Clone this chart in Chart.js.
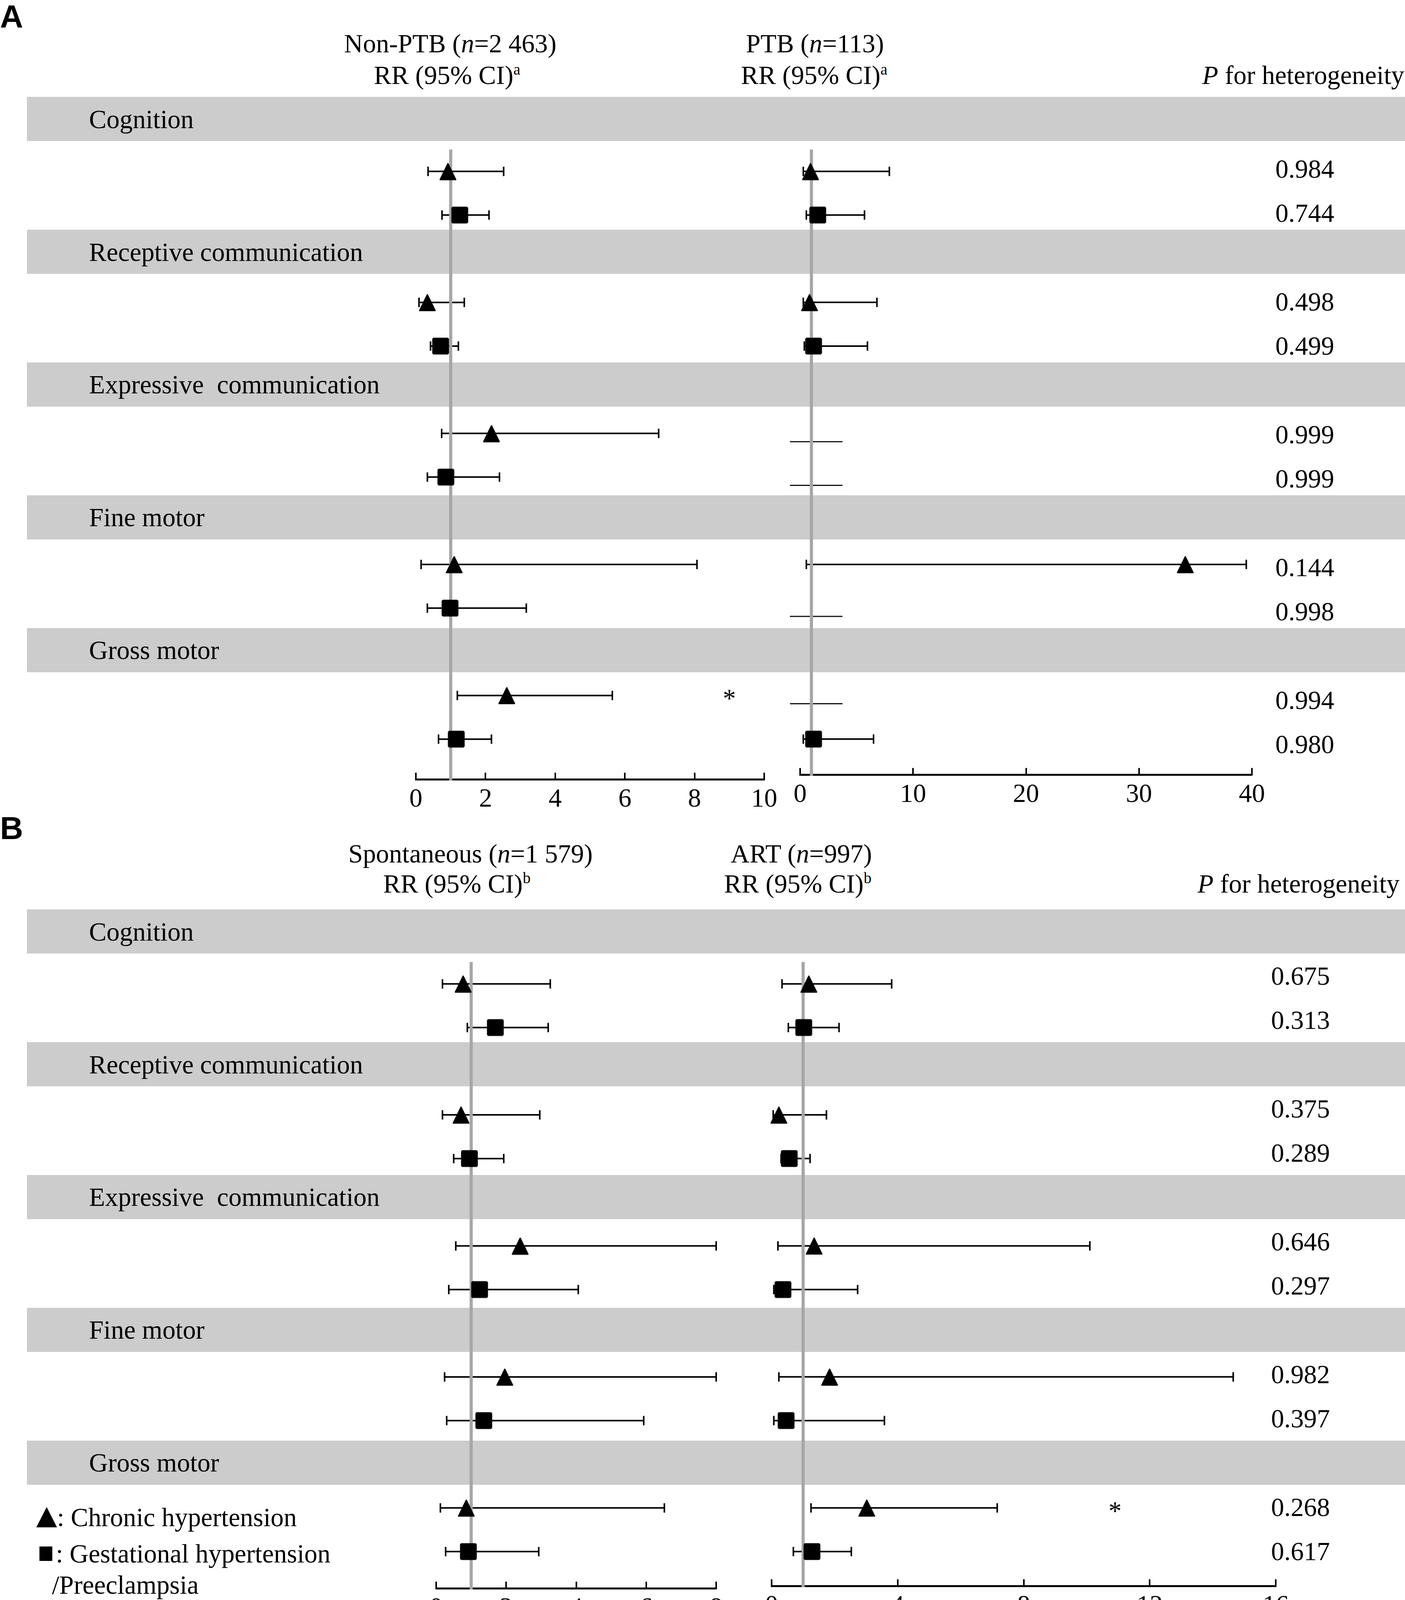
<!DOCTYPE html>
<html lang="en">
<head>
<meta charset="UTF-8">
<title>RR (95% CI) by hypertensive disorder</title>
<script src="https://cdn.jsdelivr.net/npm/chart.js@4.4.0/dist/chart.umd.min.js"></script>
<style>
	html, body { margin: 0; padding: 0; background: #fff; }
	#page { position: relative; width: 3598px; height: 4161px; overflow: hidden; color: #000;
		font-family: 'Liberation Serif', 'Times New Roman', serif; }
	.band { position: absolute; background: #cccccc; }
	.txt { position: absolute; font-size: 67px; line-height: 1; white-space: pre; transform: translateY(-50%); }
	.txt.ctr { transform: translate(-50%, -50%); }
	.txt.rgt { transform: translate(-100%, -50%); }
	.txt sup { font-size: 40px; line-height: 0; vertical-align: 24px; }
	.letter { position: absolute; font-family: 'Liberation Sans', Arial, sans-serif; font-weight: bold;
		font-size: 82px; line-height: 1; }
	.mk { position: absolute; background: #000; }
	canvas { position: absolute; }
</style>
</head>
<body>
<div id="page"></div>

<script>
	// ---------- data ----------
	var domains = ['Cognition', 'Receptive communication', 'Expressive  communication', 'Fine motor', 'Gross motor'];

	// A: Non-PTB, chronic hypertension (triangle) / gestational hypertension-preeclampsia (square)
	var nonPtbTicks = [0, 2, 4, 6, 8, 10];
	var nonPtbChEst = [0.92, 0.33, 2.17, 1.10, 2.61];
	var nonPtbChLow = [0.35, 0.09, 0.74, 0.15, 1.19];
	var nonPtbChHigh = [2.52, 1.39, 6.97, 8.07, 5.64];
	var nonPtbGhEst = [1.26, 0.71, 0.86, 0.98, 1.16];
	var nonPtbGhLow = [0.75, 0.42, 0.33, 0.33, 0.65];
	var nonPtbGhHigh = [2.10, 1.22, 2.40, 3.17, 2.17];
	var nonPtbStar = [0, 0, 0, 0, 1];

	// A: PTB (null estimate = not estimable, drawn as a plain line)
	var ptbTicks = [0, 10, 20, 30, 40];
	var ptbChEst = [0.92, 0.83, null, 34.1, null];
	var ptbChLow = [0.28, 0.28, -0.9, 0.55, -0.9];
	var ptbChHigh = [7.9, 6.8, 3.75, 39.5, 3.75];
	var ptbGhEst = [1.56, 1.19, null, null, 1.19];
	var ptbGhLow = [0.55, 0.37, -0.9, -0.9, 0.28];
	var ptbGhHigh = [5.7, 5.96, 3.75, 3.75, 6.5];

	// B: Spontaneous
	var spontTicks = [0, 2, 4, 6, 8];
	var spontChEst = [0.77, 0.71, 2.40, 1.96, 0.86];
	var spontChLow = [0.18, 0.18, 0.56, 0.24, 0.12];
	var spontChHigh = [3.26, 2.96, 8.0, 8.0, 6.52];
	var spontGhEst = [1.69, 0.95, 1.24, 1.36, 0.92];
	var spontGhLow = [0.89, 0.50, 0.36, 0.30, 0.27];
	var spontGhHigh = [3.20, 1.93, 4.06, 5.93, 2.93];

	// B: ART
	var artTicks = [0, 4, 8, 12, 16];
	var artChEst = [1.18, 0.23, 1.35, 1.84, 3.02];
	var artChLow = [0.33, 0.05, 0.20, 0.23, 1.25];
	var artChHigh = [3.81, 1.74, 10.1, 14.65, 7.16];
	var artGhEst = [1.02, 0.56, 0.36, 0.46, 1.28];
	var artGhLow = [0.53, 0.30, 0.07, 0.07, 0.69];
	var artGhHigh = [2.14, 1.22, 2.73, 3.58, 2.53];
	var artStar = [0, 0, 0, 0, 1];

	var noStar = [0, 0, 0, 0, 0];

	// P for heterogeneity, per domain: [chronic, gestational]
	var pA = [['0.984', '0.744'], ['0.498', '0.499'], ['0.999', '0.999'], ['0.144', '0.998'], ['0.994', '0.980']];
	var pB = [['0.675', '0.313'], ['0.375', '0.289'], ['0.646', '0.297'], ['0.982', '0.397'], ['0.268', '0.617']];

	var REF = 1;   // null line, RR = 1

	// ---------- layout ----------
	var UNIT = 113.3;            // height of one grey band; each domain takes 3 units
	var BAND_L = 69, BAND_R = 3598;
	var panelTop = [248, 2328];
	var pOffset = [14, 0];
	var pLeft = [3266, 3255];
	var AXIS_H = 95, PAD_L = 100, PAD_R = 60;

	var page = document.getElementById('page');

	function addDiv(cls, html, left, top) {
		var d = document.createElement('div');
		d.className = cls;
		d.innerHTML = html;
		d.style.left = left + 'px';
		d.style.top = top + 'px';
		page.appendChild(d);
		return d;
	}

	function rowY(c, s) { return 3 * c + 1.5 + s; }

	// bands, domain labels, P values
	[pA, pB].forEach(function (pv, k) {
		var y0 = panelTop[k];
		domains.forEach(function (name, c) {
			var b = addDiv('band', '', BAND_L, y0 + 3 * c * UNIT);
			b.style.width = (BAND_R - BAND_L) + 'px';
			b.style.height = UNIT + 'px';
			addDiv('txt', name, 228, y0 + (3 * c + 0.5) * UNIT);
			pv[c].forEach(function (p, s) {
				addDiv('txt', p, pLeft[k], y0 + rowY(c, s) * UNIT + pOffset[k]);
			});
		});
	});

	// headers
	addDiv('letter', 'A', 0, 1);
	addDiv('letter', 'B', 0, 2079);
	addDiv('txt ctr', 'Non-PTB (<i>n</i>=2 463)', 1153, 111);
	addDiv('txt ctr', 'RR (95% CI)<sup>a</sup>', 1145, 192);
	addDiv('txt ctr', 'PTB (<i>n</i>=113)', 2087, 111);
	addDiv('txt ctr', 'RR (95% CI)<sup>a</sup>', 2085, 192);
	addDiv('txt rgt', '<i>P</i> for heterogeneity', 3596, 192);
	addDiv('txt ctr', 'Spontaneous (<i>n</i>=1 579)', 1205, 2185);
	addDiv('txt ctr', 'RR (95% CI)<sup>b</sup>', 1170, 2262);
	addDiv('txt ctr', 'ART (<i>n</i>=997)', 2052, 2185);
	addDiv('txt ctr', 'RR (95% CI)<sup>b</sup>', 2043, 2262);
	addDiv('txt rgt', '<i>P</i> for heterogeneity', 3584, 2262);

	// legend
	var tri = addDiv('mk', '', 93, 3858);
	tri.style.width = '53px'; tri.style.height = '52px';
	tri.style.clipPath = 'polygon(50% 0, 100% 100%, 0 100%)';
	var sqm = addDiv('mk', '', 101, 3959);
	sqm.style.width = '33px'; sqm.style.height = '37px';
	addDiv('txt', ': Chronic hypertension', 146, 3884);
	addDiv('txt', ': Gestational hypertension', 143, 3977);
	addDiv('txt', '/Preeclampsia', 133, 4057);

	// ---------- charts ----------
	Chart.defaults.font.family = "'Liberation Serif', 'Times New Roman', serif";
	Chart.defaults.color = '#000';

	function markerImage(kind) {
		var c = document.createElement('canvas');
		c.width = 46; c.height = 46;
		var g = c.getContext('2d');
		g.fillStyle = '#000'; g.strokeStyle = '#000'; g.lineWidth = 3; g.lineJoin = 'round';
		g.beginPath();
		if (kind === 'tri') {
			g.moveTo(23, 3); g.lineTo(43, 44); g.lineTo(3, 44);
		} else {
			g.roundRect(3, 3, 40, 40, 3);
		}
		g.closePath(); g.fill(); g.stroke();
		return c;
	}
	var triImg = markerImage('tri');
	var sqImg = markerImage('sq');

	var plots = [
		{ panel: 0, left: 1065, right: 1957, axisY: 1995, ticks: nonPtbTicks,
			series: [[nonPtbChEst, nonPtbChLow, nonPtbChHigh], [nonPtbGhEst, nonPtbGhLow, nonPtbGhHigh]],
			star: nonPtbStar, starX: 9.0 },
		{ panel: 0, left: 2049, right: 3206, axisY: 1983, ticks: ptbTicks,
			series: [[ptbChEst, ptbChLow, ptbChHigh], [ptbGhEst, ptbGhLow, ptbGhHigh]],
			star: noStar, starX: 0 },
		{ panel: 1, left: 1117, right: 1834, axisY: 4066, ticks: spontTicks,
			series: [[spontChEst, spontChLow, spontChHigh], [spontGhEst, spontGhLow, spontGhHigh]],
			star: noStar, starX: 0 },
		{ panel: 1, left: 1976, right: 3267, axisY: 4060, ticks: artTicks,
			series: [[artChEst, artChLow, artChHigh], [artGhEst, artGhLow, artGhHigh]],
			star: artStar, starX: 10.9 }
	];

	// tick marks pointing up from the axis + significance stars
	var forestExtras = {
		id: 'forestExtras',
		afterDraw: function (chart) {
			var xs = chart.scales.x, ys = chart.scales.y, ctx = chart.ctx;
			var b = chart.chartArea.bottom;
			var p = chart.options.plugins.forestExtras;
			ctx.save();
			ctx.strokeStyle = '#000';
			ctx.lineWidth = 4;
			xs.ticks.forEach(function (t) {
				var px = Math.round(xs.getPixelForValue(t.value));
				ctx.beginPath();
				ctx.moveTo(px, b + 2);
				ctx.lineTo(px, b - 17);
				ctx.stroke();
			});
			ctx.fillStyle = '#000';
			ctx.font = "67px 'Liberation Serif'";
			ctx.textAlign = 'center';
			ctx.textBaseline = 'middle';
			p.star.forEach(function (f, c) {
				if (f) ctx.fillText('*', xs.getPixelForValue(p.starX), ys.getPixelForValue(rowY(c, 0)) + 12);
			});
			ctx.restore();
		}
	};

	plots.forEach(function (p) {
		var y0 = panelTop[p.panel];
		var areaH = Math.round(p.axisY - y0);
		var yMax = areaH / UNIT;
		var w = (p.right - p.left) + PAD_L + PAD_R;
		var h = areaH + AXIS_H;

		var cv = document.createElement('canvas');
		cv.width = w; cv.height = h;
		cv.style.width = w + 'px'; cv.style.height = h + 'px';
		cv.style.left = (p.left - PAD_L) + 'px';
		cv.style.top = y0 + 'px';
		page.appendChild(cv);

		var datasets = [];
		var caps = [], triPts = [], sqPts = [];
		p.series.forEach(function (ser, s) {
			var est = ser[0], lo = ser[1], hi = ser[2];
			est.forEach(function (e, c) {
				var y = rowY(c, s);
				if (e === null) {
					// not estimable: thin plain line
					datasets.push({
						showLine: true, data: [{ x: lo[c], y: y + 0.19 }, { x: hi[c], y: y + 0.19 }],
						borderColor: '#111', borderWidth: 3, pointRadius: 0, clip: false, order: 3
					});
					return;
				}
				datasets.push({
					showLine: true, data: [{ x: lo[c], y: y }, { x: hi[c], y: y }],
					borderColor: '#000', borderWidth: 4, pointRadius: 0, clip: false, order: 3
				});
				caps.push({ x: lo[c], y: y }, { x: hi[c], y: y });
				(s === 0 ? triPts : sqPts).push({ x: e, y: y });
			});
		});

		datasets.push({
			showLine: true, data: [{ x: REF, y: 1 }, { x: REF, y: yMax + 0.03 }],
			borderColor: '#a6a6a6', borderWidth: 8, pointRadius: 0, clip: false, order: 2
		});
		datasets.push({
			data: caps, pointStyle: 'line', pointRotation: 90, pointRadius: 12,
			pointBorderWidth: 4, pointBorderColor: '#000', clip: false, order: 1
		});
		datasets.push({ data: triPts, pointStyle: triImg, pointRadius: 22, clip: false, order: 0 });
		datasets.push({ data: sqPts, pointStyle: sqImg, pointRadius: 22, clip: false, order: 0 });

		new Chart(cv, {
			type: 'scatter',
			data: { datasets: datasets },
			plugins: [forestExtras],
			options: {
				responsive: false,
				animation: false,
				events: [],
				devicePixelRatio: 1,
				layout: { padding: { left: PAD_L, right: PAD_R, top: 0, bottom: 0 } },
				plugins: {
					legend: { display: false },
					tooltip: { enabled: false },
					forestExtras: { star: p.star, starX: p.starX }
				},
				scales: {
					x: {
						type: 'linear',
						min: p.ticks[0],
						max: p.ticks[p.ticks.length - 1],
						afterBuildTicks: function (axis) {
							axis.ticks = p.ticks.map(function (v) { return { value: v }; });
						},
						afterFit: function (axis) { axis.height = AXIS_H; },
						grid: { display: false, drawTicks: false },
						border: { display: true, color: '#000', width: 5 },
						ticks: {
							autoSkip: false, maxRotation: 0, padding: 12, color: '#000',
							font: { size: 67 }
						}
					},
					y: { type: 'linear', display: false, reverse: true, min: 0, max: yMax }
				}
			}
		});
	});
</script>
</body>
</html>
